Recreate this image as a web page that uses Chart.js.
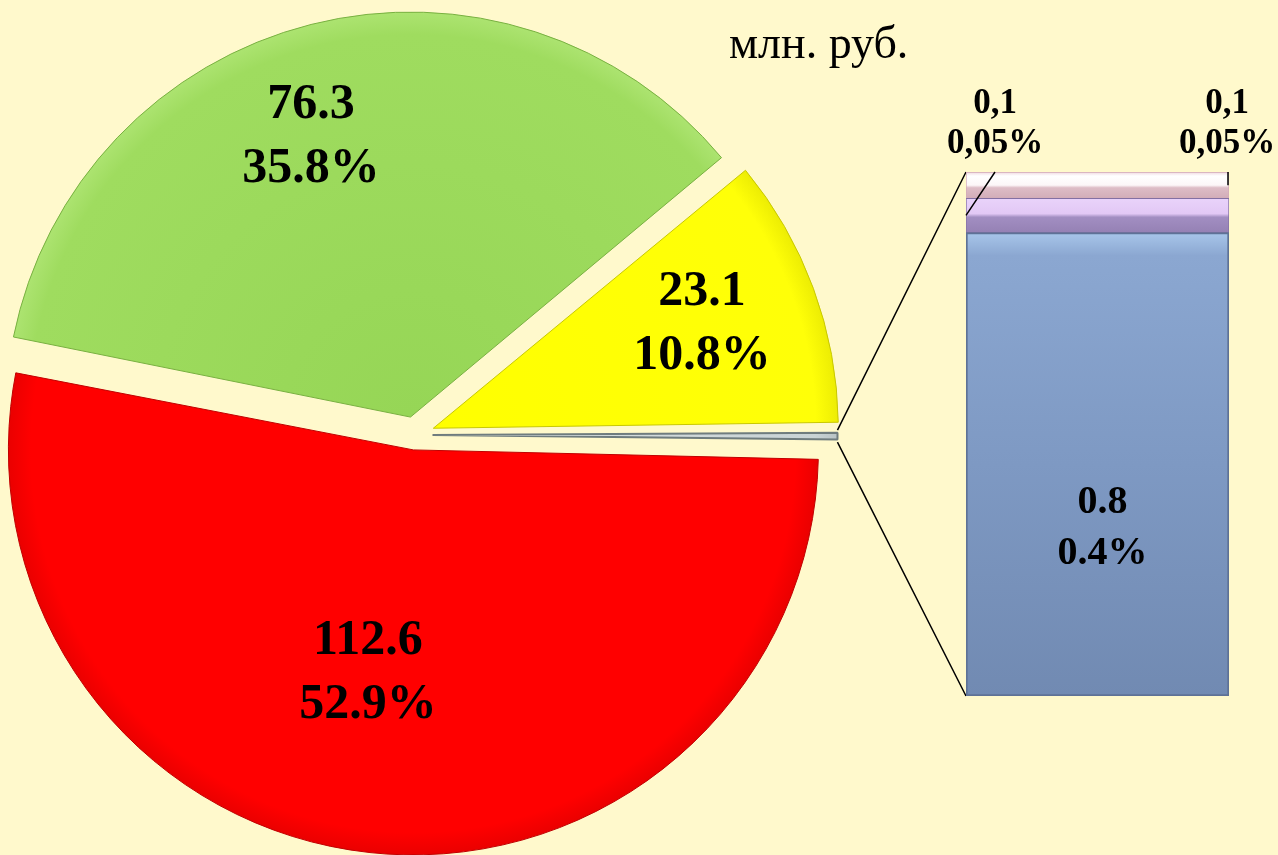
<!DOCTYPE html>
<html>
<head>
<meta charset="utf-8">
<script src="https://cdn.jsdelivr.net/npm/chart.js@4.4.1/dist/chart.umd.min.js"></script>
<style>
  body { margin: 0; background: #FFF9CC; }
  #wrap { position: relative; width: 1278px; height: 855px; overflow: hidden; background: #FFF9CC; }
  #pie { position: absolute; left: 0; top: 0; }
  #bar { position: absolute; left: 900px; top: 0; }
  #unit { position: absolute; left: 729px; top: 20px; font: 46px "Liberation Serif", serif; line-height: 46px; color: #000; white-space: nowrap; }
</style>
</head>
<body>
<div id="wrap">
  <canvas id="pie" width="1278" height="855"></canvas>
  <canvas id="bar" width="378" height="855"></canvas>
  <div id="unit">млн. руб.</div>
</div>
<script>
// --- данные ---
const pieValues = [112.6, 76.3, 23.1, 1.0];
const pieValueText = ['112.6', '76.3', '23.1', ''];
const piePercentText = ['52.9%', '35.8%', '10.8%', ''];

// вторичная диаграмма (столбец), значения по высоте сегментов
const barValues = [0.88, 0.065, 0.05];
const barValueText = ['0.8', '0,1', '0,1'];
const barPercentText = ['0.4%', '0,05%', '0,05%'];

const R = 405;
const barTotal = barValues.reduce((a, b) => a + b, 0);

// --- цвета ---
const pieStops = [
    ['#FF0000', '#FF0000', '#D80000'],
    ['#96D656', '#9FDC5F', '#B8EA80'],
    ['#FFFF00', '#FFFF08', '#DCDC00'],
    ['#DCE3E3', '#C9D3D5', '#A9B4B6']
];
const pieBorders = ['#C00000', '#78B040', '#C8C800', '#6F7C7E'];
const barStops = [
    [[0, '#A8C6EA'], [0.05, '#8BA7D1'], [0.5, '#7E99C3'], [1, '#718AB2']],
    [[0, '#E9D3FA'], [0.45, '#E2C8F5'], [0.55, '#A28EC2'], [1, '#9581B4']],
    [[0, '#EFD7DF'], [0.15, '#FFFFFF'], [0.5, '#FCF6F8'], [0.6, '#DDBCC6'], [1, '#D2ADB8']]
];
const barBorders = ['#5E7296', '#8370A3', '#D2A9B6'];

function pieFill(ctx) {
    const chart = ctx.chart;
    const area = chart.chartArea;
    const s = pieStops[ctx.dataIndex];
    if (!area) return s[1];
    const cx = (area.left + area.right) / 2;
    const cy = (area.top + area.bottom) / 2;
    const g = chart.ctx.createRadialGradient(cx, cy, 0, cx, cy, R + 20);
    g.addColorStop(0, s[0]);
    g.addColorStop(0.9, s[1]);
    g.addColorStop(1, s[2]);
    return g;
}

function barFill(ctx) {
    const chart = ctx.chart;
    const y = chart.scales.y;
    const i = ctx.datasetIndex;
    if (!y || !chart.chartArea) return barStops[i][1][1];
    let below = 0;
    for (let k = 0; k < i; k++) below += barValues[k];
    const bottom = y.getPixelForValue(below);
    const top = y.getPixelForValue(below + barValues[i]);
    const g = chart.ctx.createLinearGradient(0, top, 0, bottom);
    barStops[i].forEach(st => g.addColorStop(st[0], st[1]));
    return g;
}

// --- подписи столбца ---
const barLabels = {
    id: 'barLabels',
    afterDatasetsDraw(chart) {
        const ctx = chart.ctx;
        const blue = chart.getDatasetMeta(0).data[0];
        const purple = chart.getDatasetMeta(1).data[0];
        const pink = chart.getDatasetMeta(2).data[0];
        ctx.save();
        ctx.fillStyle = '#000';
        ctx.textAlign = 'center';
        ctx.textBaseline = 'middle';

        // синий сегмент
        ctx.font = 'bold 40px "Liberation Serif", serif';
        const by = blue.y + (blue.base - blue.y) * 0.64;
        ctx.fillText(barValueText[0], blue.x + 5, by - 26);
        ctx.fillText(barPercentText[0], blue.x + 5, by + 25);

        // маленькие сегменты
        ctx.font = 'bold 35px "Liberation Serif", serif';
        const leftX = purple.x - purple.width / 2;
        const rightX = pink.x + pink.width / 2;
        ctx.fillText(barValueText[1], leftX + 29, 104);
        ctx.fillText(barPercentText[1], leftX + 29, 144);
        ctx.fillText(barValueText[2], rightX - 2, 104);
        ctx.fillText(barPercentText[2], rightX - 2, 144);

        ctx.strokeStyle = '#000';
        ctx.lineWidth = 1.5;
        ctx.beginPath();
        ctx.moveTo(leftX + 29, pink.y);
        ctx.lineTo(leftX, (purple.y + purple.base) / 2);
        ctx.moveTo(rightX - 1, pink.y);
        ctx.lineTo(rightX - 1, (pink.y + pink.base) / 2);
        ctx.stroke();
        ctx.restore();
    }
};

const barChart = new Chart(document.getElementById('bar'), {
    type: 'bar',
    data: {
        labels: [''],
        datasets: barValues.map((v, i) => ({
            data: [v],
            backgroundColor: barFill,
            borderColor: barBorders[i],
            borderWidth: i === 0 ? 2 : 1,
            borderSkipped: false,
            barPercentage: 1,
            categoryPercentage: 1
        }))
    },
    options: {
        responsive: false,
        animation: false,
        layout: { padding: { left: 66, right: 49, top: 172, bottom: 159 } },
        scales: {
            x: { stacked: true, display: false },
            y: { stacked: true, display: false, min: 0, max: barTotal }
        },
        plugins: { legend: { display: false }, tooltip: { enabled: false } }
    },
    plugins: [barLabels]
});

// --- круговая диаграмма ---
// поправка радиуса: выдвинутые сектора в v4 получают прибавку к радиусу
const radiusFix = {
    id: 'radiusFix',
    beforeDatasetsDraw(chart) {
        chart.getDatasetMeta(0).data.forEach(arc => {
            const t = (arc.options.offset || 0) / 4;
            const fix = 1 - Math.sin(Math.min(Math.PI, arc.circumference));
            arc.outerRadius = R - t * fix;
        });
    }
};

const labelShift = [5, -5, -1, 0];
const labelDist = [0.60, 0.78, 0.76, 0];

const pieLabels = {
    id: 'pieLabels',
    afterDatasetsDraw(chart) {
        const ctx = chart.ctx;
        ctx.save();
        ctx.fillStyle = '#000';
        ctx.textAlign = 'center';
        ctx.textBaseline = 'middle';
        ctx.font = 'bold 50px "Liberation Serif", serif';
        chart.getDatasetMeta(0).data.forEach((arc, i) => {
            if (!pieValueText[i]) return;
            const a = (arc.startAngle + arc.endAngle) / 2 + labelShift[i] * Math.PI / 180;
            const x = arc.x + Math.cos(a) * labelDist[i] * R;
            const y = arc.y + Math.sin(a) * labelDist[i] * R;
            ctx.fillText(pieValueText[i], x, y - 32);
            ctx.fillText(piePercentText[i], x, y + 32);
        });

        // линии к столбцу
        const other = chart.getDatasetMeta(0).data[3];
        const t = (other.options.offset || 0) / 4;
        const hm = (other.startAngle + other.endAngle) / 2;
        const vx = other.x + Math.cos(hm) * t;
        const vy = other.y + Math.sin(hm) * t;
        const bc = barChart.canvas;
        const top = barChart.getDatasetMeta(2).data[0];
        const bottom = barChart.getDatasetMeta(0).data[0];
        const bx = bc.offsetLeft + bottom.x - bottom.width / 2;
        ctx.strokeStyle = '#000';
        ctx.lineWidth = 1.5;
        ctx.beginPath();
        ctx.moveTo(vx + Math.cos(other.startAngle) * R, vy + Math.sin(other.startAngle) * R);
        ctx.lineTo(bx, bc.offsetTop + top.y);
        ctx.moveTo(vx + Math.cos(other.endAngle) * R, vy + Math.sin(other.endAngle) * R);
        ctx.lineTo(bx, bc.offsetTop + bottom.base);
        ctx.stroke();
        ctx.restore();
    }
};

new Chart(document.getElementById('pie'), {
    type: 'pie',
    data: {
        labels: ['1', '2', '3', '4'],
        datasets: [{
            data: pieValues,
            backgroundColor: pieFill,
            borderColor: pieBorders,
            borderWidth: [1, 1, 1, 2],
            offset: [60, 74, 78, 70],
            rotation: 91,
            radius: R
        }]
    },
    options: {
        responsive: false,
        animation: false,
        rotation: 91,
        layout: { padding: { left: 0, right: 448, top: 15, bottom: 0 } },
        plugins: { legend: { display: false }, tooltip: { enabled: false } }
    },
    plugins: [radiusFix, pieLabels]
});
</script>
</body>
</html>
